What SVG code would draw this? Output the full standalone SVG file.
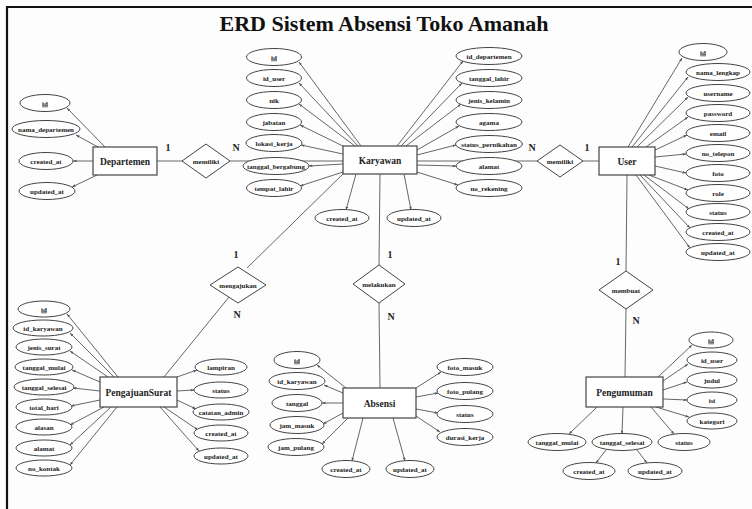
<svg xmlns="http://www.w3.org/2000/svg" width="752" height="509" viewBox="0 0 752 509">
<defs>
<style>
.bg{fill:#fdfdfd}
.frame{stroke:#111;stroke-width:2.2;fill:none}
ellipse{fill:#fff;stroke:#444;stroke-width:1}
rect.ent{fill:#fff;stroke:#444;stroke-width:1.2}
polygon.rel{fill:#fff;stroke:#444;stroke-width:1}
.cn line{stroke:#555;stroke-width:0.9}
.cn line.att{marker-end:url(#ah)}
text{font-family:"Liberation Serif","Times New Roman",serif;font-weight:bold;fill:#222;text-anchor:middle}
text.a{font-size:7px}
text.n{font-size:9.5px}
text.c{font-size:10px}
text.t{font-size:22px;fill:#111}
text.u{text-decoration:underline}
</style>
<marker id="ah" markerUnits="userSpaceOnUse" markerWidth="4" markerHeight="3" refX="3.5" refY="1.3" orient="auto">
<path d="M0,0 L3.5,1.3 L0,2.6 z" fill="#555"/>
</marker>
</defs>
<rect class="bg" x="0" y="0" width="752" height="509"/>
<path class="frame" d="M7,509 V7 H752"/>
<text class="t" x="384" y="31">ERD Sistem Absensi Toko Amanah</text>

<g id="connectors" class="cn">
<!-- Departemen -->
<line class="att" x1="105" y1="147" x2="67" y2="108"/>
<line class="att" x1="98" y1="147" x2="76" y2="135"/>
<line class="att" x1="93" y1="161" x2="73" y2="161"/>
<line class="att" x1="97" y1="175" x2="72" y2="187"/>
<line x1="157" y1="161" x2="182" y2="161"/>
<line x1="230" y1="161" x2="343" y2="161"/>
<!-- Karyawan -->
<line class="att" x1="361" y1="146" x2="299" y2="62"/>
<line class="att" x1="358" y1="146" x2="299" y2="83"/>
<line class="att" x1="355" y1="146" x2="299" y2="104"/>
<line class="att" x1="347" y1="148" x2="300" y2="125"/>
<line class="att" x1="343" y1="154" x2="301" y2="145"/>
<line class="att" x1="343" y1="164" x2="309" y2="166"/>
<line class="att" x1="343" y1="172" x2="300" y2="186"/>
<line class="att" x1="397" y1="146" x2="463" y2="61"/>
<line class="att" x1="401" y1="146" x2="462" y2="83"/>
<line class="att" x1="406" y1="146" x2="461" y2="104"/>
<line class="att" x1="417" y1="150" x2="459" y2="126"/>
<line class="att" x1="417" y1="155" x2="456" y2="145"/>
<line class="att" x1="417" y1="165" x2="456" y2="166"/>
<line class="att" x1="417" y1="172" x2="458" y2="185"/>
<line class="att" x1="356" y1="174" x2="346" y2="210"/>
<line class="att" x1="404" y1="174" x2="411" y2="210"/>
<line x1="417" y1="161" x2="537" y2="161"/>
<line x1="583" y1="161" x2="599" y2="161"/>
<line x1="380" y1="174" x2="379" y2="265"/>
<line x1="379" y1="303" x2="380" y2="388"/>
<line x1="343" y1="174" x2="247" y2="268"/>
<line x1="229" y1="297" x2="164" y2="377"/>
<!-- User -->
<line class="att" x1="628" y1="147" x2="682" y2="58"/>
<line class="att" x1="632" y1="147" x2="688" y2="77"/>
<line class="att" x1="637" y1="147" x2="688" y2="97"/>
<line class="att" x1="646" y1="147" x2="688" y2="117"/>
<line class="att" x1="655" y1="150" x2="687" y2="135"/>
<line class="att" x1="655" y1="157" x2="686" y2="154"/>
<line class="att" x1="655" y1="166" x2="686" y2="173"/>
<line class="att" x1="649" y1="175" x2="688" y2="190"/>
<line class="att" x1="644" y1="175" x2="689" y2="209"/>
<line class="att" x1="640" y1="175" x2="690" y2="228"/>
<line class="att" x1="636" y1="175" x2="690" y2="248"/>
<line x1="627" y1="175" x2="626" y2="271"/>
<line x1="626" y1="309" x2="625" y2="377"/>
<!-- Pengumuman -->
<line class="att" x1="658" y1="377" x2="692" y2="345"/>
<line class="att" x1="663" y1="381" x2="688" y2="364"/>
<line class="att" x1="663" y1="390" x2="687" y2="382"/>
<line class="att" x1="663" y1="399" x2="687" y2="400"/>
<line class="att" x1="656" y1="407" x2="689" y2="417"/>
<line class="att" x1="597" y1="407" x2="569" y2="434"/>
<line class="att" x1="623" y1="407" x2="622" y2="434"/>
<line class="att" x1="651" y1="407" x2="674" y2="434"/>
<line class="att" x1="606" y1="450" x2="596" y2="463"/>
<line class="att" x1="637" y1="450" x2="647" y2="463"/>
<!-- Absensi -->
<line class="att" x1="346" y1="388" x2="317" y2="365"/>
<line class="att" x1="343" y1="393" x2="324" y2="385"/>
<line class="att" x1="343" y1="403" x2="322" y2="403"/>
<line class="att" x1="343" y1="413" x2="323" y2="424"/>
<line class="att" x1="348" y1="418" x2="322" y2="444"/>
<line class="att" x1="363" y1="418" x2="352" y2="461"/>
<line class="att" x1="393" y1="418" x2="405" y2="461"/>
<line class="att" x1="416" y1="388" x2="441" y2="372"/>
<line class="att" x1="416" y1="397" x2="438" y2="393"/>
<line class="att" x1="416" y1="409" x2="438" y2="413"/>
<line class="att" x1="416" y1="416" x2="440" y2="432"/>
<!-- PengajuanSurat -->
<line class="att" x1="118" y1="377" x2="67" y2="314"/>
<line class="att" x1="114" y1="377" x2="70" y2="333"/>
<line class="att" x1="108" y1="377" x2="70" y2="351"/>
<line class="att" x1="100" y1="382" x2="72" y2="370"/>
<line class="att" x1="100" y1="391" x2="73" y2="388"/>
<line class="att" x1="100" y1="400" x2="71" y2="406"/>
<line class="att" x1="104" y1="407" x2="70" y2="425"/>
<line class="att" x1="111" y1="407" x2="70" y2="445"/>
<line class="att" x1="117" y1="407" x2="70" y2="465"/>
<line class="att" x1="177" y1="377" x2="197" y2="370"/>
<line class="att" x1="177" y1="391" x2="194" y2="390"/>
<line class="att" x1="177" y1="400" x2="196" y2="409"/>
<line class="att" x1="164" y1="407" x2="198" y2="430"/>
<line class="att" x1="160" y1="407" x2="199" y2="451"/>
</g>

<!-- Departemen -->
<g id="departemen"><rect class="ent" x="93" y="147" width="64" height="28"/><text class="n" x="125" y="164.5">Departemen</text></g>
<g id="departemen-id"><ellipse cx="45" cy="103" rx="25" ry="8.5"/><text class="a u" x="45" y="105.5">id</text></g>
<g id="departemen-nama_departemen"><ellipse cx="46" cy="129" rx="34" ry="8.5"/><text class="a" x="46" y="131.5">nama_departemen</text></g>
<g id="departemen-created_at"><ellipse cx="46" cy="161" rx="27" ry="8.5"/><text class="a" x="46" y="163.5">created_at</text></g>
<g id="departemen-updated_at"><ellipse cx="47" cy="191" rx="28" ry="8.5"/><text class="a" x="47" y="193.5">updated_at</text></g>

<g id="rel-memiliki-1"><polygon class="rel" points="182,161 206,144 230,161 206,178"/><text class="a" x="206" y="163.5">memiliki</text></g>
<text class="c" x="168" y="151">1</text>
<text class="c" x="236" y="151">N</text>

<!-- Karyawan -->
<g id="karyawan"><rect class="ent" x="343" y="146" width="74" height="28"/><text class="n" x="380" y="163.5">Karyawan</text></g>
<g id="karyawan-id"><ellipse cx="274" cy="57" rx="27.5" ry="8.5"/><text class="a u" x="274" y="59.5">id</text></g>
<g id="karyawan-id_user"><ellipse cx="274" cy="78" rx="27.5" ry="8.5"/><text class="a" x="274" y="80.5">id_user</text></g>
<g id="karyawan-nik"><ellipse cx="274" cy="100" rx="27.5" ry="8.5"/><text class="a" x="274" y="102.5">nik</text></g>
<g id="karyawan-jabatan"><ellipse cx="274" cy="122" rx="27.5" ry="8.5"/><text class="a" x="274" y="124.5">jabatan</text></g>
<g id="karyawan-lokasi_kerja"><ellipse cx="274" cy="143" rx="28" ry="8.5"/><text class="a" x="274" y="145.5">lokasi_kerja</text></g>
<g id="karyawan-tanggal_bergabung"><ellipse cx="276" cy="166" rx="33" ry="8.5"/><text class="a" x="276" y="168.5">tanggal_bergabung</text></g>
<g id="karyawan-tempat_lahir"><ellipse cx="274" cy="188" rx="27.5" ry="8.5"/><text class="a" x="274" y="190.5">tempat_lahir</text></g>
<g id="karyawan-id_departemen"><ellipse cx="489" cy="56" rx="33" ry="8.5"/><text class="a" x="489" y="58.5">id_departemen</text></g>
<g id="karyawan-tanggal_lahir"><ellipse cx="489" cy="78" rx="33" ry="8.5"/><text class="a" x="489" y="80.5">tanggal_lahir</text></g>
<g id="karyawan-jenis_kelamin"><ellipse cx="489" cy="100" rx="33" ry="8.5"/><text class="a" x="489" y="102.5">jenis_kelamin</text></g>
<g id="karyawan-agama"><ellipse cx="489" cy="122" rx="33" ry="8.5"/><text class="a" x="489" y="124.5">agama</text></g>
<g id="karyawan-status_pernikahan"><ellipse cx="489" cy="144" rx="33.5" ry="8.5"/><text class="a" x="489" y="146.5">status_pernikahan</text></g>
<g id="karyawan-alamat"><ellipse cx="489" cy="166" rx="33" ry="8.5"/><text class="a" x="489" y="168.5">alamat</text></g>
<g id="karyawan-no_rekening"><ellipse cx="489" cy="188" rx="33" ry="8.5"/><text class="a" x="489" y="190.5">no_rekening</text></g>
<g id="karyawan-created_at"><ellipse cx="342" cy="218" rx="27" ry="8.5"/><text class="a" x="342" y="220.5">created_at</text></g>
<g id="karyawan-updated_at"><ellipse cx="414" cy="218" rx="27" ry="8.5"/><text class="a" x="414" y="220.5">updated_at</text></g>

<g id="rel-memiliki-2"><polygon class="rel" points="537,161 560,145 583,161 560,177"/><text class="a" x="560" y="163.5">memiliki</text></g>
<text class="c" x="532" y="151">N</text>
<text class="c" x="587" y="151">1</text>

<!-- User -->
<g id="user"><rect class="ent" x="599" y="147" width="56" height="28"/><text class="n" x="627" y="164.5">User</text></g>
<g id="user-id"><ellipse cx="703" cy="52" rx="24" ry="8.5"/><text class="a u" x="703" y="54.5">id</text></g>
<g id="user-nama_lengkap"><ellipse cx="718" cy="72" rx="32" ry="8.5"/><text class="a" x="718" y="74.5">nama_lengkap</text></g>
<g id="user-username"><ellipse cx="718" cy="93" rx="32" ry="8.5"/><text class="a" x="718" y="95.5">username</text></g>
<g id="user-password"><ellipse cx="718" cy="113" rx="32" ry="8.5"/><text class="a" x="718" y="115.5">password</text></g>
<g id="user-email"><ellipse cx="718" cy="133" rx="32" ry="8.5"/><text class="a" x="718" y="135.5">email</text></g>
<g id="user-no_telepon"><ellipse cx="718" cy="153" rx="32" ry="8.5"/><text class="a" x="718" y="155.5">no_telepon</text></g>
<g id="user-foto"><ellipse cx="718" cy="173" rx="32" ry="8.5"/><text class="a" x="718" y="175.5">foto</text></g>
<g id="user-role"><ellipse cx="718" cy="193" rx="32" ry="8.5"/><text class="a" x="718" y="195.5">role</text></g>
<g id="user-status"><ellipse cx="718" cy="212" rx="32" ry="8.5"/><text class="a" x="718" y="214.5">status</text></g>
<g id="user-created_at"><ellipse cx="718" cy="232" rx="32" ry="8.5"/><text class="a" x="718" y="234.5">created_at</text></g>
<g id="user-updated_at"><ellipse cx="718" cy="252" rx="32" ry="8.5"/><text class="a" x="718" y="254.5">updated_at</text></g>

<g id="rel-membuat"><polygon class="rel" points="599,290 626,271 653,290 626,309"/><text class="a" x="626" y="292.5">membuat</text></g>
<text class="c" x="618" y="265">1</text>
<text class="c" x="636" y="324">N</text>

<!-- Pengumuman -->
<g id="pengumuman"><rect class="ent" x="586" y="377" width="77" height="30"/><text class="n" x="624.5" y="395.5">Pengumuman</text></g>
<g id="pengumuman-id"><ellipse cx="711" cy="340" rx="22" ry="8"/><text class="a u" x="711" y="342.5">id</text></g>
<g id="pengumuman-id_user"><ellipse cx="712" cy="360" rx="25" ry="8"/><text class="a" x="712" y="362.5">id_user</text></g>
<g id="pengumuman-judul"><ellipse cx="712" cy="380" rx="25" ry="8"/><text class="a" x="712" y="382.5">judul</text></g>
<g id="pengumuman-isi"><ellipse cx="712" cy="400" rx="25" ry="8"/><text class="a" x="712" y="402.5">isi</text></g>
<g id="pengumuman-kategori"><ellipse cx="712" cy="421" rx="25" ry="8"/><text class="a" x="712" y="423.5">kategori</text></g>
<g id="pengumuman-tanggal_mulai"><ellipse cx="557" cy="442" rx="29" ry="8.5"/><text class="a" x="557" y="444.5">tanggal_mulai</text></g>
<g id="pengumuman-tanggal_selesai"><ellipse cx="622" cy="442" rx="30" ry="8.5"/><text class="a" x="622" y="444.5">tanggal_selesai</text></g>
<g id="pengumuman-status"><ellipse cx="684" cy="442" rx="26" ry="8.5"/><text class="a" x="684" y="444.5">status</text></g>
<g id="pengumuman-created_at"><ellipse cx="589" cy="471" rx="26" ry="8.5"/><text class="a" x="589" y="473.5">created_at</text></g>
<g id="pengumuman-updated_at"><ellipse cx="655" cy="471" rx="27" ry="8.5"/><text class="a" x="655" y="473.5">updated_at</text></g>

<g id="rel-melakukan"><polygon class="rel" points="353,284 379,265 405,284 379,303"/><text class="a" x="379" y="286.5">melakukan</text></g>
<text class="c" x="390" y="258">1</text>
<text class="c" x="391" y="320">N</text>

<!-- Absensi -->
<g id="absensi"><rect class="ent" x="343" y="388" width="73" height="30"/><text class="n" x="379.5" y="406.5">Absensi</text></g>
<g id="absensi-id"><ellipse cx="297" cy="360" rx="23" ry="8.5"/><text class="a u" x="297" y="362.5">id</text></g>
<g id="absensi-id_karyawan"><ellipse cx="297" cy="381" rx="28" ry="8.5"/><text class="a" x="297" y="383.5">id_karyawan</text></g>
<g id="absensi-tanggal"><ellipse cx="297" cy="403" rx="25" ry="8.5"/><text class="a" x="297" y="405.5">tanggal</text></g>
<g id="absensi-jam_masuk"><ellipse cx="297" cy="425" rx="27" ry="8.5"/><text class="a" x="297" y="427.5">jam_masuk</text></g>
<g id="absensi-jam_pulang"><ellipse cx="296" cy="447" rx="28" ry="8.5"/><text class="a" x="296" y="449.5">jam_pulang</text></g>
<g id="absensi-foto_masuk"><ellipse cx="465" cy="367" rx="28" ry="8.5"/><text class="a" x="465" y="369.5">foto_masuk</text></g>
<g id="absensi-foto_pulang"><ellipse cx="465" cy="391" rx="28" ry="8.5"/><text class="a" x="465" y="393.5">foto_pulang</text></g>
<g id="absensi-status"><ellipse cx="465" cy="414" rx="28" ry="8.5"/><text class="a" x="465" y="416.5">status</text></g>
<g id="absensi-durasi_kerja"><ellipse cx="465" cy="437" rx="28" ry="8.5"/><text class="a" x="465" y="439.5">durasi_kerja</text></g>
<g id="absensi-created_at"><ellipse cx="346" cy="469" rx="24" ry="8.5"/><text class="a" x="346" y="471.5">created_at</text></g>
<g id="absensi-updated_at"><ellipse cx="410" cy="469" rx="24" ry="8.5"/><text class="a" x="410" y="471.5">updated_at</text></g>

<g id="rel-mengajukan"><polygon class="rel" points="210,285 238,267 266,285 238,303"/><text class="a" x="238" y="287.5">mengajukan</text></g>
<text class="c" x="236" y="258">1</text>
<text class="c" x="237" y="318">N</text>

<!-- PengajuanSurat -->
<g id="pengajuansurat"><rect class="ent" x="100" y="377" width="77" height="30"/><text class="n" x="138.5" y="395.5">PengajuanSurat</text></g>
<g id="pengajuansurat-id"><ellipse cx="44" cy="309" rx="26" ry="8"/><text class="a u" x="44" y="311.5">id</text></g>
<g id="pengajuansurat-id_karyawan"><ellipse cx="43" cy="328" rx="30" ry="8"/><text class="a" x="43" y="330.5">id_karyawan</text></g>
<g id="pengajuansurat-jenis_surat"><ellipse cx="44" cy="347" rx="28" ry="8"/><text class="a" x="44" y="349.5">jenis_surat</text></g>
<g id="pengajuansurat-tanggal_mulai"><ellipse cx="44" cy="367" rx="29" ry="8"/><text class="a" x="44" y="369.5">tanggal_mulai</text></g>
<g id="pengajuansurat-tanggal_selesai"><ellipse cx="44" cy="387" rx="30" ry="8"/><text class="a" x="44" y="389.5">tanggal_selesai</text></g>
<g id="pengajuansurat-total_hari"><ellipse cx="44" cy="407" rx="28" ry="8"/><text class="a" x="44" y="409.5">total_hari</text></g>
<g id="pengajuansurat-alasan"><ellipse cx="44" cy="427" rx="28" ry="8"/><text class="a" x="44" y="429.5">alasan</text></g>
<g id="pengajuansurat-alamat"><ellipse cx="44" cy="448" rx="28" ry="8"/><text class="a" x="44" y="450.5">alamat</text></g>
<g id="pengajuansurat-no_kontak"><ellipse cx="44" cy="468" rx="28" ry="8"/><text class="a" x="44" y="470.5">no_kontak</text></g>
<g id="pengajuansurat-lampiran"><ellipse cx="221" cy="367" rx="26" ry="8"/><text class="a" x="221" y="369.5">lampiran</text></g>
<g id="pengajuansurat-status"><ellipse cx="221" cy="390" rx="27" ry="8"/><text class="a" x="221" y="392.5">status</text></g>
<g id="pengajuansurat-catatan_admin"><ellipse cx="221" cy="412" rx="28" ry="8"/><text class="a" x="221" y="414.5">catatan_admin</text></g>
<g id="pengajuansurat-created_at"><ellipse cx="221" cy="433" rx="27" ry="8"/><text class="a" x="221" y="435.5">created_at</text></g>
<g id="pengajuansurat-updated_at"><ellipse cx="221" cy="456" rx="27" ry="8"/><text class="a" x="221" y="458.5">updated_at</text></g>
</svg>
